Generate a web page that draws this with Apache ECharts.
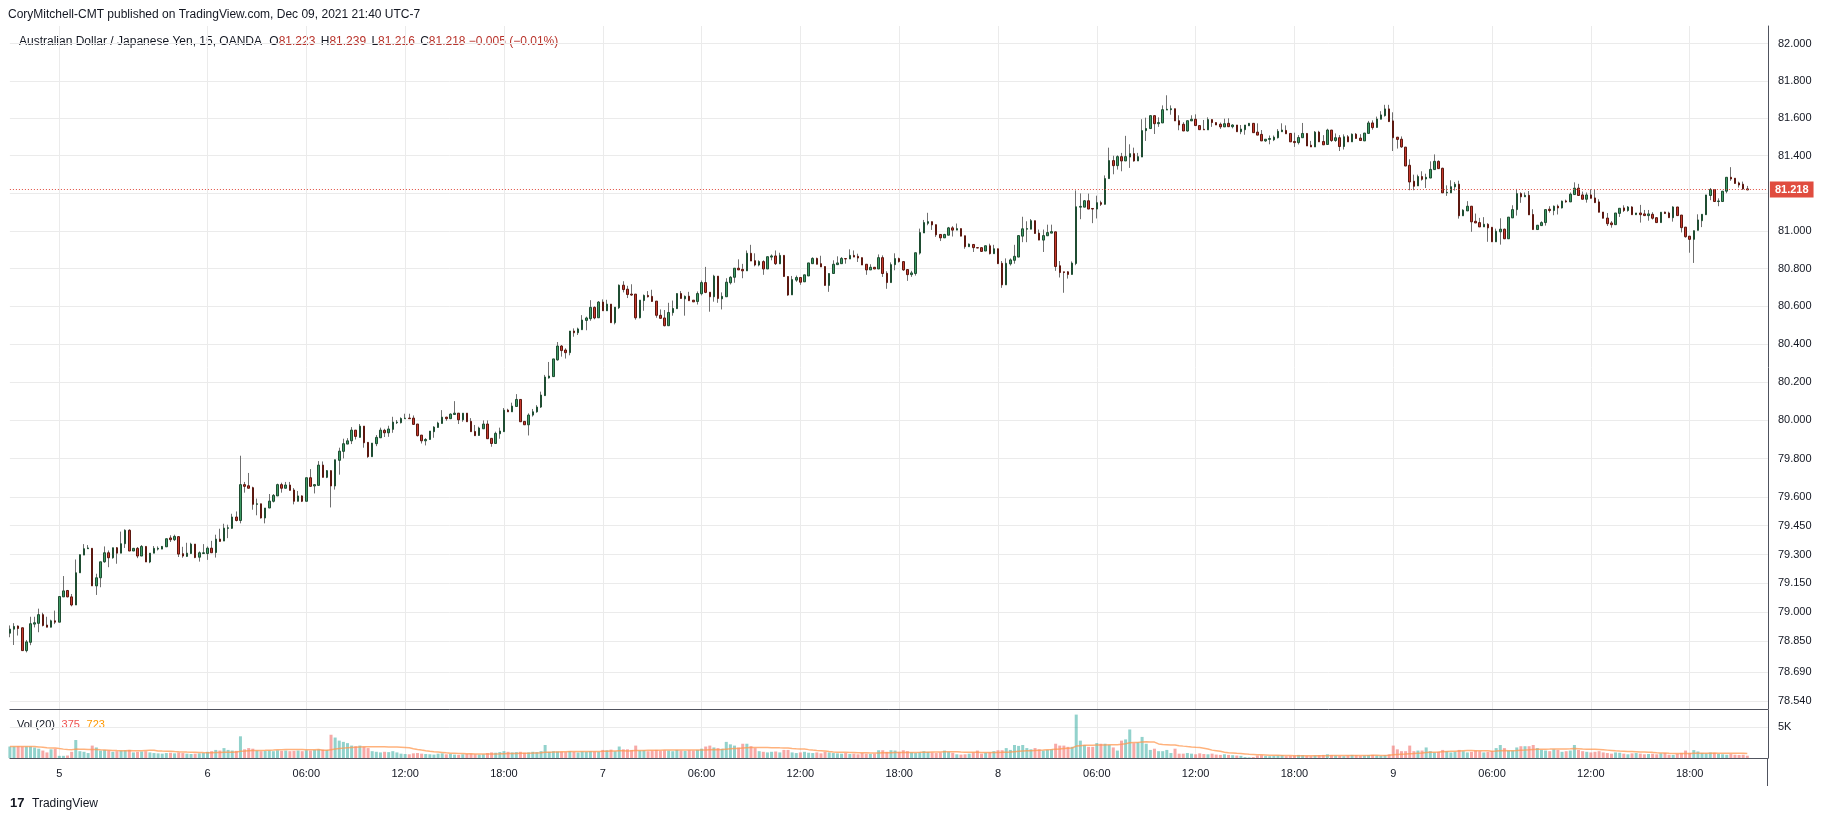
<!DOCTYPE html>
<html><head><meta charset="utf-8">
<script src="https://cdn.jsdelivr.net/npm/echarts@6/dist/echarts.min.js"></script>
<style>html,body{margin:0;padding:0;background:#fff}#c{width:1834px;height:821px}</style>
</head><body><div id="c"></div>
<script>
// ---- AUD/JPY 15-minute candles (OANDA), Dec 3 12:00 -> Dec 9 21:30 (UTC-7) ----
const openP = [
78.892,78.913,78.929,78.920,78.802,78.845,78.939,78.943,78.988,78.934,
78.923,78.956,78.949,79.080,79.113,79.080,79.038,79.205,79.297,79.330,
79.332,79.137,79.179,79.262,79.309,79.283,79.335,79.307,79.356,79.426,
79.318,79.332,79.292,79.342,79.261,79.307,79.328,79.328,79.340,79.386,
79.377,79.393,79.304,79.290,79.305,79.354,79.286,79.305,79.305,79.333,
79.310,79.380,79.370,79.436,79.436,79.495,79.477,79.664,79.658,79.648,
79.561,79.564,79.490,79.542,79.577,79.605,79.664,79.645,79.662,79.636,
79.577,79.605,79.577,79.700,79.657,79.660,79.766,79.702,79.737,79.657,
79.791,79.838,79.876,79.893,79.949,79.911,79.970,79.885,79.810,79.878,
79.909,79.948,79.935,79.953,79.988,79.988,80.009,80.012,80.012,79.981,
79.923,79.893,79.900,79.941,79.963,79.984,80.017,80.009,80.031,80.038,
80.003,80.038,79.995,79.942,79.921,79.956,79.981,79.906,79.879,79.930,
79.941,80.054,80.045,80.073,80.110,79.995,79.977,80.028,80.045,80.070,
80.130,80.223,80.230,80.318,80.391,80.370,80.356,80.470,80.461,80.477,
80.526,80.535,80.595,80.540,80.623,80.577,80.612,80.514,80.593,80.712,
80.691,80.665,80.665,80.540,80.631,80.658,80.653,80.628,80.553,80.539,
80.498,80.567,80.588,80.668,80.640,80.654,80.633,80.626,80.667,80.726,
80.675,80.651,80.760,80.640,80.651,80.725,80.754,80.802,80.796,80.788,
80.881,80.842,80.819,80.837,80.798,80.861,80.867,80.825,80.870,80.758,
80.661,80.739,80.753,80.730,80.761,80.826,80.854,80.826,80.811,80.711,
80.774,80.821,80.826,80.853,80.851,80.870,80.865,80.858,80.823,80.793,
80.807,80.798,80.858,80.775,80.726,80.821,80.853,80.837,80.795,80.768,
80.774,80.882,80.989,81.040,81.049,81.033,80.981,80.963,80.977,81.016,
81.004,81.012,80.974,80.916,80.928,80.911,80.911,80.893,80.921,80.879,
80.905,80.828,80.714,80.825,80.844,80.861,80.972,81.009,81.009,81.054,
80.988,80.951,80.974,80.988,80.995,80.815,80.783,80.783,80.769,80.827,
81.126,81.126,81.160,81.119,81.116,81.150,81.141,81.278,81.374,81.347,
81.395,81.372,81.393,81.411,81.372,81.393,81.534,81.545,81.614,81.571,
81.575,81.644,81.646,81.651,81.587,81.568,81.532,81.586,81.595,81.561,
81.541,81.538,81.593,81.577,81.568,81.554,81.573,81.555,81.564,81.528,
81.539,81.560,81.573,81.526,81.514,81.479,81.487,81.485,81.496,81.528,
81.535,81.519,81.476,81.470,81.496,81.519,81.456,81.447,81.526,81.476,
81.460,81.537,81.481,81.496,81.449,81.501,81.474,81.515,81.494,81.479,
81.519,81.575,81.551,81.595,81.614,81.650,81.586,81.499,81.488,81.446,
81.349,81.264,81.239,81.289,81.276,81.281,81.326,81.370,81.333,81.202,
81.202,81.234,81.248,81.080,81.106,81.131,81.051,81.044,81.021,81.035,
81.019,80.942,80.995,81.009,80.958,81.069,81.113,81.198,81.181,81.189,
81.087,81.007,81.028,81.044,81.115,81.108,81.131,81.122,81.159,81.154,
81.193,81.227,81.191,81.168,81.191,81.175,81.154,81.100,81.068,81.042,
81.033,81.093,81.122,81.108,81.127,81.086,81.095,81.090,81.081,81.088,
81.070,81.044,81.100,81.095,81.070,81.127,81.084,81.020,80.972,80.955,
81.003,81.054,81.086,81.188,81.220,81.156,81.156,81.211,81.285,81.280,
81.255,81.248,81.223];
const highP = [
78.932,78.944,78.932,78.921,78.857,78.977,78.977,79.019,78.998,78.977,
78.962,79.009,79.082,79.188,79.116,79.095,79.274,79.299,79.354,79.349,
79.332,79.200,79.262,79.342,79.321,79.335,79.339,79.419,79.431,79.431,
79.334,79.339,79.349,79.342,79.307,79.344,79.342,79.344,79.382,79.400,
79.403,79.393,79.340,79.361,79.361,79.354,79.316,79.354,79.342,79.371,
79.403,79.434,79.460,79.455,79.512,79.524,79.815,79.678,79.725,79.653,
79.591,79.564,79.542,79.615,79.615,79.669,79.674,79.678,79.678,79.646,
79.631,79.608,79.700,79.745,79.664,79.787,79.785,79.740,79.738,79.794,
79.857,79.904,79.907,79.965,79.949,79.981,79.970,79.885,79.881,79.923,
79.962,79.956,79.972,80.019,80.002,80.016,80.035,80.035,80.026,79.981,
79.923,79.907,79.944,79.970,79.993,80.054,80.019,80.037,80.101,80.038,
80.038,80.038,80.012,79.976,79.967,80.000,80.000,79.906,79.941,79.962,
80.065,80.061,80.093,80.138,80.110,79.995,80.037,80.060,80.080,80.151,
80.239,80.307,80.323,80.412,80.396,80.379,80.470,80.484,80.488,80.554,
80.546,80.633,80.600,80.628,80.637,80.635,80.612,80.596,80.716,80.733,
80.709,80.717,80.665,80.633,80.663,80.681,80.688,80.628,80.584,80.581,
80.619,80.631,80.668,80.681,80.658,80.677,80.633,80.679,80.737,80.809,
80.675,80.767,80.760,80.674,80.749,80.760,80.802,80.849,80.825,80.896,
80.926,80.881,80.844,80.844,80.863,80.875,80.896,80.884,80.870,80.758,
80.761,80.763,80.753,80.767,80.830,80.860,80.858,80.868,80.811,80.774,
80.844,80.865,80.861,80.853,80.902,80.896,80.879,80.858,80.823,80.823,
80.807,80.875,80.870,80.786,80.833,80.881,80.858,80.837,80.795,80.788,
80.884,81.012,81.058,81.096,81.049,81.033,80.981,80.984,81.021,81.025,
81.039,81.012,80.974,80.933,80.928,80.911,80.911,80.921,80.932,80.926,
80.905,80.840,80.854,80.854,80.926,80.975,81.075,81.051,81.063,81.054,
81.007,81.007,81.033,81.033,80.995,80.840,80.783,80.786,80.838,81.215,
81.199,81.164,81.198,81.119,81.187,81.160,81.295,81.443,81.400,81.402,
81.415,81.506,81.461,81.443,81.415,81.595,81.603,81.614,81.614,81.605,
81.669,81.723,81.669,81.651,81.616,81.579,81.587,81.616,81.621,81.561,
81.591,81.605,81.593,81.577,81.577,81.598,81.600,81.568,81.564,81.564,
81.564,81.573,81.573,81.573,81.537,81.488,81.508,81.508,81.542,81.573,
81.562,81.519,81.523,81.510,81.575,81.519,81.479,81.532,81.533,81.510,
81.544,81.537,81.519,81.510,81.514,81.510,81.519,81.521,81.515,81.521,
81.586,81.589,81.609,81.638,81.672,81.672,81.632,81.499,81.503,81.446,
81.381,81.299,81.299,81.317,81.304,81.370,81.407,81.375,81.336,81.242,
81.269,81.260,81.267,81.115,81.158,81.131,81.092,81.069,81.073,81.041,
81.019,81.012,81.067,81.012,81.073,81.136,81.223,81.205,81.204,81.212,
81.115,81.030,81.051,81.113,81.131,81.135,81.140,81.161,81.166,81.204,
81.258,81.250,81.209,81.204,81.221,81.221,81.168,81.100,81.095,81.052,
81.095,81.120,81.136,81.132,81.131,81.095,81.138,81.111,81.111,81.099,
81.072,81.100,81.102,81.102,81.131,81.127,81.084,81.020,80.972,81.001,
81.088,81.088,81.191,81.228,81.220,81.173,81.211,81.285,81.339,81.280,
81.262,81.262,81.239];
const lowP = [
78.871,78.831,78.880,78.802,78.793,78.830,78.922,78.897,78.927,78.923,
78.922,78.939,78.949,79.080,79.078,79.031,79.038,79.205,79.297,79.330,
79.137,79.090,79.130,79.257,79.234,79.278,79.252,79.307,79.334,79.318,
79.318,79.281,79.292,79.261,79.255,79.307,79.321,79.328,79.340,79.365,
79.370,79.287,79.283,79.289,79.305,79.281,79.263,79.305,79.272,79.309,
79.284,79.368,79.370,79.385,79.434,79.472,79.462,79.622,79.645,79.533,
79.504,79.487,79.462,79.542,79.571,79.605,79.622,79.645,79.634,79.561,
79.577,79.573,79.577,79.655,79.618,79.660,79.702,79.698,79.545,79.638,
79.716,79.801,79.876,79.876,79.900,79.911,79.857,79.804,79.810,79.865,
79.909,79.913,79.914,79.935,79.981,79.984,80.009,80.009,79.979,79.916,
79.879,79.869,79.900,79.909,79.963,79.984,79.998,80.009,80.031,79.981,
79.993,79.993,79.941,79.920,79.921,79.956,79.904,79.862,79.879,79.904,
79.941,80.045,80.045,80.073,79.993,79.977,79.921,80.020,80.040,80.065,
80.130,80.219,80.230,80.314,80.335,80.325,80.342,80.440,80.449,80.477,
80.474,80.524,80.532,80.540,80.577,80.577,80.514,80.505,80.586,80.674,
80.644,80.656,80.530,80.537,80.577,80.647,80.626,80.540,80.537,80.495,
80.498,80.551,80.588,80.642,80.551,80.630,80.624,80.610,80.658,80.670,
80.572,80.625,80.619,80.584,80.651,80.716,80.725,80.793,80.749,80.788,
80.840,80.812,80.812,80.767,80.798,80.844,80.819,80.825,80.758,80.656,
80.661,80.730,80.714,80.730,80.761,80.826,80.823,80.809,80.711,80.677,
80.774,80.821,80.826,80.826,80.851,80.861,80.835,80.819,80.767,80.793,
80.798,80.798,80.756,80.693,80.726,80.791,80.832,80.788,80.735,80.756,
80.763,80.874,80.989,81.030,81.005,80.968,80.946,80.963,80.977,80.970,
81.004,80.972,80.905,80.916,80.888,80.909,80.888,80.893,80.875,80.879,
80.826,80.698,80.714,80.816,80.826,80.861,80.940,80.940,81.009,80.986,
80.951,80.888,80.974,80.988,80.788,80.753,80.672,80.747,80.769,80.818,
81.062,81.126,81.116,81.041,81.066,81.132,81.141,81.278,81.301,81.326,
81.317,81.372,81.335,81.368,81.372,81.393,81.479,81.545,81.516,81.554,
81.575,81.644,81.619,81.586,81.536,81.532,81.529,81.586,81.561,81.539,
81.538,81.538,81.554,81.564,81.543,81.554,81.555,81.546,81.528,81.515,
81.512,81.560,81.523,81.510,81.479,81.474,81.461,81.478,81.492,81.528,
81.517,81.474,81.447,81.460,81.496,81.452,81.447,81.447,81.474,81.458,
81.460,81.474,81.474,81.425,81.433,81.474,81.474,81.492,81.481,81.479,
81.519,81.539,81.551,81.595,81.609,81.582,81.425,81.438,81.442,81.345,
81.216,81.216,81.239,81.267,81.228,81.281,81.326,81.331,81.202,81.186,
81.202,81.214,81.065,81.080,81.106,80.995,81.042,81.021,81.021,80.942,
80.942,80.942,80.927,80.958,80.958,81.069,81.081,81.149,81.181,81.085,
81.007,81.007,81.027,81.028,81.097,81.083,81.087,81.119,81.150,81.154,
81.193,81.188,81.168,81.150,81.173,81.150,81.099,81.067,81.026,81.017,
81.033,81.074,81.100,81.102,81.086,81.086,81.044,81.081,81.054,81.060,
81.044,81.044,81.090,81.070,81.049,81.081,80.992,80.964,80.884,80.830,
81.003,81.020,81.086,81.163,81.156,81.131,81.156,81.200,81.266,81.252,
81.230,81.218,81.216];
const closeP = [
78.913,78.927,78.916,78.802,78.847,78.941,78.946,78.988,78.932,78.923,
78.956,78.949,79.082,79.111,79.080,79.038,79.205,79.299,79.330,79.334,
79.137,79.179,79.262,79.309,79.283,79.335,79.307,79.356,79.426,79.318,
79.332,79.292,79.342,79.261,79.307,79.332,79.332,79.342,79.382,79.377,
79.394,79.302,79.292,79.307,79.354,79.284,79.309,79.309,79.333,79.309,
79.380,79.368,79.437,79.439,79.495,79.477,79.664,79.655,79.645,79.561,
79.564,79.490,79.542,79.578,79.608,79.664,79.645,79.662,79.634,79.577,
79.605,79.577,79.700,79.655,79.664,79.766,79.702,79.737,79.657,79.794,
79.839,79.878,79.893,79.949,79.916,79.970,79.883,79.810,79.881,79.911,
79.949,79.935,79.955,79.991,79.991,80.010,80.012,80.009,79.979,79.920,
79.893,79.900,79.944,79.965,79.986,80.017,80.009,80.033,80.038,80.003,
80.038,79.993,79.941,79.920,79.960,79.981,79.904,79.879,79.932,79.944,
80.054,80.045,80.075,80.110,79.993,79.977,80.028,80.045,80.070,80.133,
80.228,80.233,80.323,80.391,80.367,80.356,80.470,80.461,80.481,80.528,
80.539,80.595,80.539,80.623,80.577,80.612,80.514,80.596,80.712,80.689,
80.663,80.660,80.540,80.633,80.658,80.651,80.626,80.553,80.537,80.498,
80.568,80.589,80.668,80.642,80.653,80.630,80.624,80.668,80.726,80.674,
80.651,80.760,80.642,80.653,80.728,80.754,80.802,80.793,80.788,80.881,
80.840,80.819,80.837,80.798,80.863,80.867,80.826,80.870,80.758,80.660,
80.742,80.753,80.728,80.767,80.830,80.854,80.823,80.809,80.711,80.774,
80.823,80.830,80.854,80.851,80.870,80.861,80.856,80.819,80.793,80.807,
80.798,80.858,80.774,80.726,80.821,80.853,80.837,80.793,80.768,80.777,
80.884,80.991,81.044,81.049,81.032,80.979,80.963,80.981,81.016,81.004,
81.012,80.972,80.916,80.930,80.911,80.909,80.891,80.921,80.879,80.905,
80.826,80.714,80.828,80.846,80.865,80.975,81.011,81.012,81.054,80.986,
80.951,80.975,80.991,80.996,80.811,80.779,80.779,80.769,80.829,81.128,
81.130,81.160,81.116,81.116,81.150,81.141,81.278,81.374,81.347,81.395,
81.372,81.395,81.411,81.372,81.395,81.534,81.545,81.614,81.571,81.577,
81.646,81.648,81.651,81.586,81.564,81.532,81.587,81.595,81.561,81.539,
81.538,81.593,81.577,81.564,81.554,81.571,81.555,81.564,81.528,81.542,
81.564,81.573,81.523,81.510,81.479,81.488,81.492,81.499,81.530,81.537,
81.517,81.474,81.470,81.497,81.519,81.452,81.447,81.526,81.474,81.458,
81.537,81.481,81.496,81.449,81.501,81.474,81.515,81.492,81.481,81.521,
81.575,81.550,81.596,81.618,81.650,81.582,81.496,81.487,81.447,81.345,
81.260,81.237,81.289,81.274,81.285,81.327,81.370,81.331,81.202,81.205,
81.235,81.248,81.080,81.110,81.131,81.048,81.042,81.021,81.035,81.016,
80.942,80.998,81.009,80.958,81.073,81.113,81.198,81.181,81.189,81.085,
81.007,81.030,81.044,81.113,81.108,81.131,81.122,81.158,81.154,81.195,
81.227,81.188,81.168,81.191,81.173,81.150,81.099,81.067,81.038,81.033,
81.095,81.120,81.108,81.127,81.086,81.095,81.086,81.081,81.090,81.067,
81.044,81.099,81.092,81.070,81.127,81.081,81.017,80.969,80.955,81.001,
81.058,81.088,81.191,81.220,81.156,81.159,81.211,81.285,81.276,81.252,
81.244,81.223,81.218];
const volume = [
1850,1850,1900,1850,1850,1850,1700,1500,1200,900,
1400,1500,350,350,400,1000,2900,1100,1000,800,
2000,1700,1200,1300,1200,1000,1100,1200,1250,1300,
900,1000,1050,1100,900,800,750,700,800,850,
750,900,800,700,650,700,750,800,1000,1100,
1300,1200,1600,1300,1200,1150,3500,1400,1600,1500,
1200,1100,1150,1200,1100,1250,1150,1200,1100,1150,
1200,1100,1250,1200,1300,1400,1350,1300,3750,3300,
2800,2600,2400,2000,1900,2000,1800,1600,1100,1000,
900,1000,950,1100,900,700,650,600,750,800,
700,650,600,550,700,750,600,650,550,500,
600,650,700,600,550,600,800,900,850,950,
1100,1000,900,950,1000,850,900,1000,950,1100,
2100,1000,1100,1050,1000,950,1100,1000,900,1050,
1000,1100,1050,1000,1300,1250,1350,1100,1850,1400,
1400,1300,2000,1200,1250,1100,1200,1300,1150,1250,
1200,1100,1300,1200,1150,1250,1200,1300,1500,1850,
2000,1700,1600,1500,2600,2200,2000,1700,2300,2300,
1900,1600,1100,1000,900,1000,1050,900,1300,1300,
900,800,900,1000,850,800,900,750,1000,900,
800,750,700,800,650,700,600,800,700,650,
700,1250,1250,1000,1250,1200,1000,1250,1100,900,
800,900,1100,1000,900,800,900,1200,1000,850,
600,550,600,700,900,1200,700,850,900,1100,
1250,1250,1600,1300,2100,1950,2100,1600,1400,1600,
1400,1200,1300,1400,2300,2000,2000,1800,1800,7000,
2800,2100,1800,1800,2400,2300,2300,2100,1700,1200,
2800,3000,4600,2400,2500,3400,2300,1300,1500,1100,
1100,1300,800,1500,700,700,800,700,600,750,
650,600,700,550,500,600,500,450,400,350,
150,100,150,400,450,350,300,350,400,450,
300,350,400,500,450,350,300,400,450,500,
600,450,400,350,300,400,500,450,350,400,
450,500,400,350,450,600,2000,1400,1100,1100,
2000,1100,1200,1200,1700,1100,900,1000,1300,1100,
900,1000,1300,1100,900,1000,1200,1100,900,1000,
1100,1600,2100,1600,1200,1200,1700,1900,1900,1900,
2100,1600,1300,1200,1100,1400,1300,1000,1100,1200,
2100,1300,1100,1000,900,1000,1100,900,800,700,
900,850,700,600,750,800,700,600,650,700,
600,750,800,525,490,675,825,1200,825,1275,
1050,825,750,900,825,675,600,525,640,525,
490,525,375];

// time-axis labels: candle index -> text
const tickIdx  = [12,48,72,96,120,144,168,192,216,240,264,288,312,336,360,384,408];
const tickText = ['5','6','06:00','12:00','18:00','7','06:00','12:00','18:00','8','06:00','12:00','18:00','9','06:00','12:00','18:00'];
// price-axis labels
const priceTicks = [82.0,81.8,81.6,81.4,81.2,81.0,80.8,80.6,80.4,80.2,80.0,79.8,79.6,79.45,79.3,79.15,79.0,78.85,78.69,78.54];
const volTicks = [5000];
const lastPrice = 81.218;
const legendVals = {O:'81.223', H:'81.239', L:'81.216', C:'81.218', chg:'\u22120.005 (\u22120.01%)'};
const volLegend = {last:'375', ma:'723'};
const EMPTY_SLOTS = 5;

const n = openP.length;
const cats = [];
for (let i = 0; i < n + EMPTY_SLOTS; i++) cats.push(String(i));
const tickMap = {};
tickIdx.forEach((k, j) => { tickMap[k] = tickText[j]; });
const isTick = (i) => tickMap[i] !== undefined;

const wickData = openP.map((o, i) => [o, closeP[i], Math.min(lowP[i], o, closeP[i]), Math.max(highP[i], o, closeP[i])]);
const bodyData = openP.map((o, i) => [o, closeP[i], Math.min(o, closeP[i]), Math.max(o, closeP[i])]);
const volData = volume.map((v, i) => ({
  value: v,
  itemStyle: { color: closeP[i] >= openP[i] ? 'rgba(38,166,154,0.5)' : 'rgba(239,83,80,0.5)' }
}));
const volMA = volume.map((v, i) => {
  const s = Math.max(0, i - 19);
  let sum = 0;
  for (let j = s; j <= i; j++) sum += volume[j];
  return +(sum / (i - s + 1)).toFixed(1);
});

const FONT = '"Liberation Sans", Arial, sans-serif';
const TXT = '#131722';
const GRIDC = '#ebebeb';
const BORDER = '#50535e';

const chart = echarts.init(document.getElementById('c'), null, { renderer: 'canvas' });
chart.setOption({
  animation: false,
  backgroundColor: '#ffffff',
  textStyle: { fontFamily: FONT },
  grid: [
    { left: 9.9, top: 26, width: 1758, height: 683 },
    { left: 9.9, top: 710, width: 1758, height: 48 }
  ],
  xAxis: [
    {
      type: 'category', gridIndex: 0, data: cats, boundaryGap: false,
      axisLine: { show: true, onZero: false, lineStyle: { color: BORDER, width: 1 } },
      axisTick: { show: false }, axisLabel: { show: false },
      splitLine: { show: true, interval: (i) => isTick(i), lineStyle: { color: GRIDC } }
    },
    {
      type: 'category', gridIndex: 1, data: cats, boundaryGap: false,
      axisLine: { show: true, onZero: false, lineStyle: { color: BORDER, width: 1 } },
      axisTick: { show: false },
      axisLabel: {
        show: true, interval: (i) => isTick(i), formatter: (v) => tickMap[+v] || '',
        color: TXT, fontSize: 11, margin: 10, fontFamily: FONT
      },
      splitLine: { show: true, interval: (i) => isTick(i), lineStyle: { color: GRIDC } }
    }
  ],
  yAxis: [
    {
      type: 'log', logBase: 10, gridIndex: 0, position: 'right',
      min: 78.501, max: 82.095,
      axisLine: { show: true, lineStyle: { color: BORDER } },
      axisTick: { show: false, customValues: priceTicks },
      axisLabel: {
        customValues: priceTicks, formatter: (v) => Number(v).toFixed(3),
        color: TXT, fontSize: 11, margin: 10, fontFamily: FONT
      },
      splitLine: { show: true, lineStyle: { color: GRIDC } }
    },
    {
      type: 'value', gridIndex: 1, position: 'right', min: 0, max: 7742,
      axisLine: { show: true, lineStyle: { color: BORDER } },
      axisTick: { show: false, customValues: volTicks },
      axisLabel: { customValues: volTicks, formatter: () => '5K', color: TXT, fontSize: 11, margin: 10, fontFamily: FONT },
      splitLine: { show: true, lineStyle: { color: GRIDC } }
    }
  ],
  series: [
    {
      type: 'candlestick', name: 'wick', xAxisIndex: 0, yAxisIndex: 0,
      data: wickData, barWidth: 1, silent: true, z: 2,
      itemStyle: { color: '#707070', color0: '#707070', borderColor: '#707070', borderColor0: '#707070', borderWidth: 1 }
    },
    {
      type: 'candlestick', name: 'AUDJPY', xAxisIndex: 0, yAxisIndex: 0,
      data: bodyData, barWidth: 2, silent: true, z: 3,
      itemStyle: { color: '#3d9a64', color0: '#c8392d', borderColor: '#1f4d32', borderColor0: '#5c1810', borderWidth: 1 },
      markLine: {
        silent: true, symbol: ['none', 'none'], animation: false,
        data: [{ yAxis: lastPrice }],
        lineStyle: { color: '#e04c3f', type: [1, 2], width: 1 },
        label: {
          show: true, position: 'end', distance: 2, formatter: lastPrice.toFixed(3),
          backgroundColor: '#e04c3f', color: '#ffffff', fontWeight: 'bold', fontSize: 11,
          padding: [3, 5, 2, 5], fontFamily: FONT
        }
      }
    },
    {
      type: 'bar', name: 'Vol', xAxisIndex: 1, yAxisIndex: 1, data: volData,
      barWidth: 3, silent: true, z: 2
    },
    {
      type: 'line', name: 'Vol MA', xAxisIndex: 1, yAxisIndex: 1, data: volMA,
      showSymbol: false, silent: true, z: 3,
      lineStyle: { color: '#ff9850', width: 1.5, opacity: 0.75 }
    }
  ],
  graphic: [
    { type: 'text', left: 8, top: 9, style: { text: 'CoryMitchell-CMT published on TradingView.com, Dec 09, 2021 21:40 UTC-7', font: '12px ' + FONT, fill: TXT } },
    {
      type: 'text', left: 19, top: 36,
      style: {
        text: '{n|Australian Dollar / Japanese Yen, 15, OANDA} {k|O}{v|' + legendVals.O + '} {k|H}{v|' + legendVals.H + '} {k|L}{v|' + legendVals.L + '} {k|C}{v|' + legendVals.C + '} {v|' + legendVals.chg + '}',
        rich: {
          n: { fontSize: 12, fill: TXT, fontFamily: FONT, padding: [0, 2, 0, 0] },
          k: { fontSize: 12, fill: TXT, fontFamily: FONT, padding: [0, 0, 0, 2] },
          v: { fontSize: 12, fill: '#b8322a', fontFamily: FONT }
        }
      }
    },
    {
      type: 'text', left: 17, top: 719,
      style: {
        text: '{n|Vol (20)}  {a|' + volLegend.last + '}  {b|' + volLegend.ma + '}',
        rich: {
          n: { fontSize: 11, fill: TXT, fontFamily: FONT },
          a: { fontSize: 11, fill: '#ef5350', fontFamily: FONT },
          b: { fontSize: 11, fill: '#ff9800', fontFamily: FONT }
        }
      }
    },
    { type: 'line', shape: { x1: 1767.5, y1: 758, x2: 1767.5, y2: 786 }, style: { stroke: BORDER, lineWidth: 1 } },
    {
      type: 'group', left: 10, top: 797,
      children: [
        { type: 'text', left: 0, top: 0, style: { text: '17', font: 'bold 13px ' + FONT, fill: TXT } },
        { type: 'text', left: 22, top: 1, style: { text: 'TradingView', font: '12px ' + FONT, fill: TXT } }
      ]
    }
  ]
});
</script>
</body></html>
